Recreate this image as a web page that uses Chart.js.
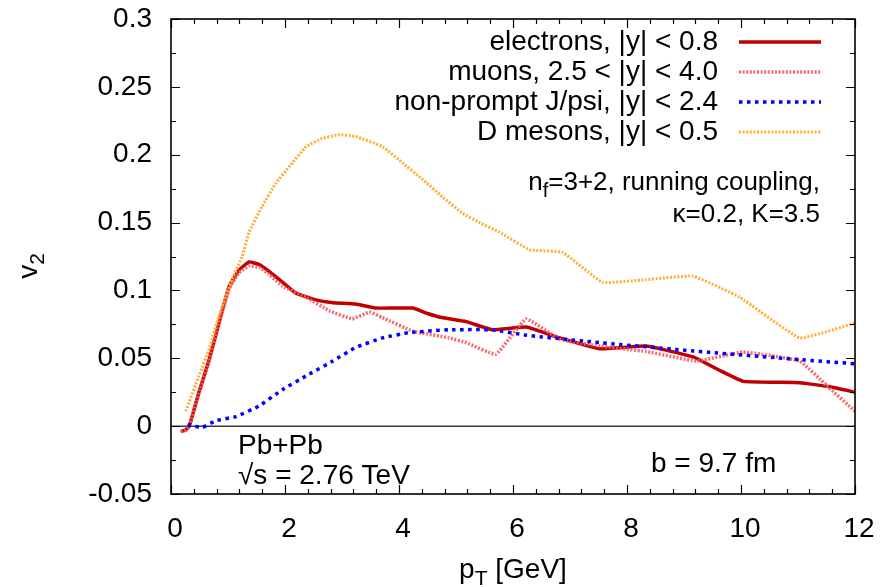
<!DOCTYPE html>
<html>
<head>
<meta charset="utf-8">
<script src="https://cdn.jsdelivr.net/npm/chart.js@4.4.1/dist/chart.umd.min.js"></script>
<style>
html,body{margin:0;padding:0;background:#fff;}
#wrap{width:889px;height:587px;position:relative;}
</style>
</head>
<body>
<div id="wrap"><canvas id="c" width="889" height="587"></canvas></div>
<script>
// ---------- data ----------
const electronsPt = [0.17,0.25,0.32,0.49,0.67,0.84,1.02,1.19,1.37,1.55,1.72,1.96,2.19,2.54,2.84,3.24,3.6,4.24,4.5,4.75,5.18,5.64,6.23,6.82,7.52,8.34,9.16,9.63,10.04,11.03,11.56,12.0];
const electronsV2 = [-0.004,-0.003,0.0,0.025,0.049,0.076,0.103,0.115,0.121,0.119,0.114,0.106,0.098,0.093,0.091,0.090,0.087,0.087,0.083,0.080,0.077,0.071,0.073,0.065,0.057,0.059,0.051,0.041,0.033,0.032,0.029,0.025];

const muonsPt = [0.17,0.25,0.32,0.49,0.67,0.84,1.02,1.19,1.37,1.55,1.72,1.96,2.37,2.78,3.18,3.48,3.71,4.24,4.88,5.18,5.7,6.23,6.82,7.52,8.34,9.22,10.04,11.03,11.5,12.0];
const muonsV2 = [-0.004,-0.003,0.0,0.024,0.048,0.075,0.101,0.113,0.118,0.117,0.112,0.103,0.095,0.085,0.079,0.084,0.080,0.070,0.065,0.0615,0.053,0.079,0.064,0.059,0.055,0.048,0.0546,0.048,0.030,0.011];

const jpsiPt = [0.29,0.55,0.78,1.14,1.55,1.96,2.37,2.84,3.24,3.71,4.18,4.88,5.64,6.23,7.52,9.16,11.03,12.0];
const jpsiV2 = [0.001,-0.001,0.004,0.007,0.015,0.027,0.037,0.048,0.058,0.065,0.069,0.071,0.071,0.067,0.0615,0.0554,0.049,0.046];

const dmesonPt = [0.26,0.49,0.67,0.84,1.07,1.25,1.37,1.6,1.84,2.07,2.37,2.65,2.95,3.24,3.71,4.06,4.41,4.76,5.11,5.41,5.76,6.29,6.87,7.57,8.34,9.16,9.98,11.03,12.0];
const dmesonV2 = [0.011,0.037,0.057,0.081,0.108,0.125,0.143,0.162,0.179,0.191,0.206,0.212,0.2147,0.2135,0.206,0.194,0.182,0.169,0.157,0.150,0.143,0.130,0.128,0.106,0.108,0.1105,0.095,0.065,0.076];

const seriesLabels = ['electrons, |y| < 0.8', 'muons, 2.5 < |y| < 4.0', 'non-prompt J/psi, |y| < 2.4', 'D mesons, |y| < 0.5'];
const xTickValues = [0,2,4,6,8,10,12];
const yTickValues = [-0.05,0,0.05,0.1,0.15,0.2,0.25,0.3];

// ---------- styling ----------
const FONT = '"Liberation Sans", Arial, Helvetica, sans-serif';
const FS = 28;
const styles = [
  {color:'#c00000', width:3.5, dash:[]},
  {color:'rgba(245,90,90,0.9)', width:3.5, dash:[2,1.6]},
  {color:'#0000ff', width:3.5, dash:[3.5,4.5]},
  {color:'#ffad33', width:3, dash:[2,1.6]}
];
const seriesPt = [electronsPt, muonsPt, jpsiPt, dmesonPt];
const seriesV2 = [electronsV2, muonsV2, jpsiV2, dmesonV2];

const datasets = seriesLabels.map((lab, i) => ({
  label: lab,
  data: seriesPt[i].map((x, k) => ({x: x, y: seriesV2[i][k]})),
  borderColor: styles[i].color,
  borderWidth: styles[i].width,
  borderDash: styles[i].dash,
  borderCapStyle: 'butt',
  borderJoinStyle: 'round',
  pointRadius: 0,
  fill: false,
  tension: 0.1,
  order: 3 - i
}));

function drawRich(ctx, parts, x, y, align, size) {
  let total = 0;
  const widths = parts.map(p => {
    ctx.font = (p.sub ? Math.round(size*0.75) : size) + 'px ' + FONT;
    const w = ctx.measureText(p.t).width;
    total += w; return w;
  });
  let cx = align === 'right' ? x - total : (align === 'center' ? x - total/2 : x);
  ctx.textAlign = 'left';
  ctx.textBaseline = 'alphabetic';
  parts.forEach((p, i) => {
    ctx.font = (p.sub ? Math.round(size*0.75) : size) + 'px ' + FONT;
    ctx.fillText(p.t, cx, y + (p.sub ? size*0.25 : 0));
    cx += widths[i];
  });
}

const decor = {
  id: 'decor',
  beforeDatasetsDraw(chart) {
    const ctx = chart.ctx, a = chart.chartArea, ys = chart.scales.y;
    const y0 = ys.getPixelForValue(0);
    ctx.save();
    ctx.strokeStyle = '#3a3a3a';
    ctx.lineWidth = 1.5;
    ctx.beginPath(); ctx.moveTo(a.left, y0); ctx.lineTo(a.right, y0); ctx.stroke();
    ctx.restore();
  },
  afterDatasetsDraw(chart) {
    const ctx = chart.ctx, a = chart.chartArea, xs = chart.scales.x, ys = chart.scales.y;
    ctx.save();
    ctx.strokeStyle = '#000';
    ctx.lineWidth = 1.6;
    ctx.strokeRect(a.left, a.top, a.right - a.left, a.bottom - a.top);
    ctx.lineWidth = 1.2;
    ctx.beginPath();
    for (let i = 0; i <= 30; i++) {
      const v = i * 0.4;
      const px = Math.round(xs.getPixelForValue(v)) + 0.5;
      const len = (i % 5 === 0) ? 9 : 5;
      ctx.moveTo(px, a.bottom); ctx.lineTo(px, a.bottom - len);
      ctx.moveTo(px, a.top); ctx.lineTo(px, a.top + len);
    }
    for (let i = 0; i <= 14; i++) {
      const v = -0.05 + i * 0.025;
      const py = Math.round(ys.getPixelForValue(v)) + 0.5;
      const len = (i % 2 === 0) ? 9 : 5;
      ctx.moveTo(a.left, py); ctx.lineTo(a.left + len, py);
      ctx.moveTo(a.right, py); ctx.lineTo(a.right - len, py);
    }
    ctx.stroke();
    ctx.restore();
  },
  afterDraw(chart) {
    const ctx = chart.ctx;
    ctx.save();
    ctx.fillStyle = '#000';
    const rowY = [42, 72, 102, 132];
    seriesLabels.forEach((lab, i) => {
      ctx.font = FS + 'px ' + FONT;
      ctx.textAlign = 'right';
      ctx.textBaseline = 'middle';
      ctx.fillStyle = '#000';
      ctx.fillText(lab, 718, rowY[i]);
      ctx.beginPath();
      ctx.strokeStyle = styles[i].color;
      ctx.lineWidth = styles[i].width;
      ctx.setLineDash(styles[i].dash);
      ctx.moveTo(739, rowY[i]); ctx.lineTo(821, rowY[i]);
      ctx.stroke();
      ctx.setLineDash([]);
    });
    ctx.fillStyle = '#000';
    drawRich(ctx, [{t:'n'},{t:'f',sub:true},{t:'=3+2, running coupling,'}], 820, 190, 'right', 26);
    drawRich(ctx, [{t:'\u03BA=0.2, K=3.5'}], 820, 222, 'right', 26);
    drawRich(ctx, [{t:'Pb+Pb'}], 238, 454, 'left', FS);
    drawRich(ctx, [{t:'\u221As = 2.76 TeV'}], 238, 484, 'left', FS);
    drawRich(ctx, [{t:'b = 9.7 fm'}], 651, 472, 'left', FS);
    drawRich(ctx, [{t:'p'},{t:'T',sub:true},{t:' [GeV]'}], 513, 578, 'center', FS);
    ctx.save();
    ctx.translate(37, 266);
    ctx.rotate(-Math.PI/2);
    drawRich(ctx, [{t:'v'},{t:'2',sub:true}], 0, 0, 'center', FS);
    ctx.restore();
    ctx.restore();
  }
};

new Chart(document.getElementById('c'), {
  type: 'line',
  data: { datasets: datasets },
  options: {
    responsive: false,
    animation: false,
    devicePixelRatio: 1,
    layout: { padding: { top: 19, right: 34, left: 0, bottom: 0 } },
    plugins: { legend: { display: false }, tooltip: { enabled: false } },
    scales: {
      x: {
        type: 'linear', min: 0, max: 12,
        afterFit(s) { s.height = 93; s.paddingLeft = 0; s.paddingRight = 0; },
        afterBuildTicks(s) { s.ticks = xTickValues.map(v => ({value: v})); },
        grid: { display: false, drawTicks: false },
        border: { display: false },
        ticks: { color: '#000', padding: 18, labelOffset: 4, font: { family: FONT, size: FS }, maxRotation: 0,
                 callback: v => String(v) }
      },
      y: {
        type: 'linear', min: -0.05, max: 0.3,
        afterFit(s) { s.width = 171; s.paddingTop = 0; s.paddingBottom = 0; },
        afterBuildTicks(s) { s.ticks = yTickValues.map(v => ({value: v})); },
        grid: { display: false, drawTicks: false },
        border: { display: false },
        ticks: { color: '#000', padding: 19, font: { family: FONT, size: FS },
                 callback: v => String(parseFloat(Number(v).toFixed(3))) }
      }
    }
  },
  plugins: [decor]
});
</script>
</body>
</html>
